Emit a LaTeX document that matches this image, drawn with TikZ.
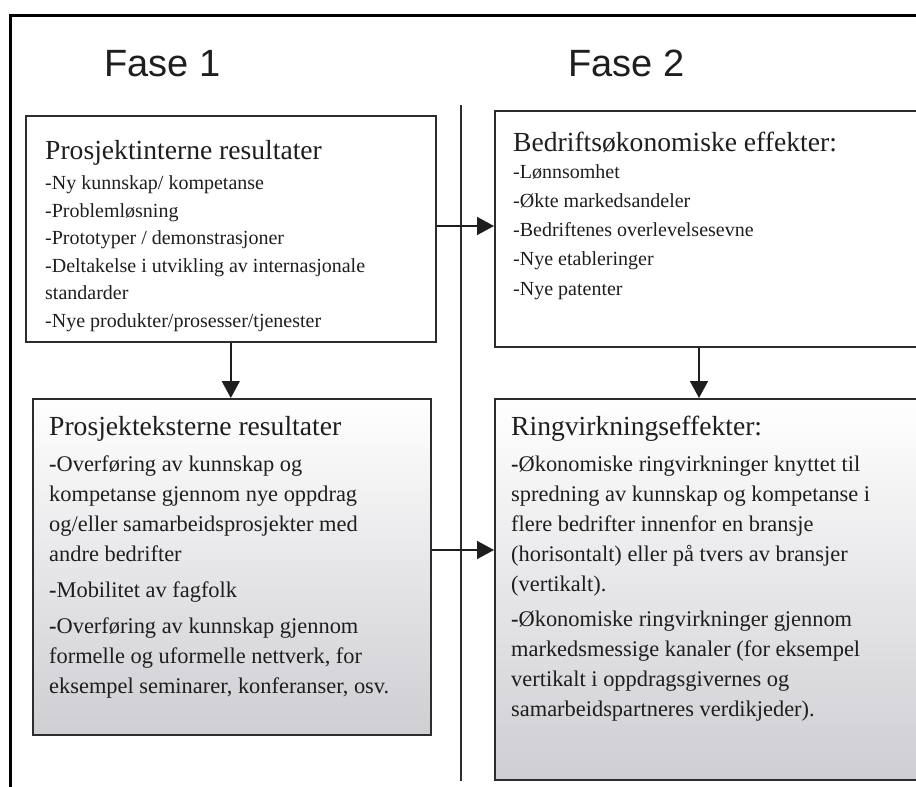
\documentclass[tikz,border=0pt]{standalone}
\usepackage{fontspec}
\setmainfont{Liberation Serif}
\setsansfont{Liberation Sans}
\usetikzlibrary{arrows.meta}

\definecolor{edge}{RGB}{45,45,45}
\definecolor{ink}{RGB}{30,30,30}
\definecolor{shadebottom}{RGB}{206,206,211}

\tikzset{
  fase/.style={font=\sffamily\fontsize{38}{40}\selectfont, text=ink, anchor=base west, inner sep=0pt},
  head/.style={font=\fontsize{27.6}{30}\selectfont, text=ink, anchor=base west, inner sep=0pt},
  itemsmall/.style={font=\fontsize{20}{24}\selectfont, text=ink, anchor=base west, inner sep=0pt},
  itemlarge/.style={font=\fontsize{22.4}{26}\selectfont, text=ink, anchor=base west, inner sep=0pt},
  plainbox/.style={draw=edge, line width=1.6pt, anchor=north west, inner sep=0pt},
  shadedbox/.style={plainbox, shading=axis, top color=white, bottom color=shadebottom},
  arr/.style={draw=ink, line width=1.6pt, -{Triangle[length=17pt,width=18pt]}},
}
\newcommand{\bdash}{{\bfseries -}}

\begin{document}
\begin{tikzpicture}[x=1pt, y=-1pt]
  \useasboundingbox (0,0) rectangle (916,787);

  % outer frame (top and left sides)
  \coordinate (frameR) at (930,15);
  \coordinate (frameC) at (10.5,15);
  \coordinate (frameB) at (10.5,800);
  \draw[draw=black, line width=3pt] (frameR) -- (frameC) -- (frameB);

  % phase headings
  \node[fase] (fase1) at (104,76) {Fase 1};
  \node[fase] (fase2) at (568,76) {Fase 2};

  % phase divider
  \coordinate (divtop) at (461,105);
  \coordinate (divbot) at (461,781);
  \draw[draw=edge, line width=1.6pt] (divtop) -- (divbot);

  % boxes
  \node[plainbox, minimum width=410pt, minimum height=226pt] (b1) at (25,115) {};
  \node[plainbox, minimum width=440pt, minimum height=236pt] (b2) at (494,110) {};
  \node[shadedbox, minimum width=398pt, minimum height=336pt] (b3) at (32,398) {};
  \node[shadedbox, minimum width=440pt, minimum height=381pt] (b4) at (494,398) {};

  % box 1 text
  \node[head] (h1) at (45,159) {Prosjektinterne resultater};
  \node[itemsmall] (a1) at (45,189.5) {-Ny kunnskap/ kompetanse};
  \node[itemsmall] (a2) at (45,217.1) {-Problemløsning};
  \node[itemsmall] (a3) at (45,244.7) {-Prototyper / demonstrasjoner};
  \node[itemsmall] (a4) at (45,272.3) {-Deltakelse i utvikling av internasjonale};
  \node[itemsmall] (a5) at (45,299.9) {standarder};
  \node[itemsmall] (a6) at (45,327.5) {-Nye produkter/prosesser/tjenester};

  % box 2 text
  \node[head] (h2) at (513,151) {Bedriftsøkonomiske effekter:};
  \node[itemsmall] (c1) at (513,178) {-Lønnsomhet};
  \node[itemsmall] (c2) at (513,207.3) {-Økte markedsandeler};
  \node[itemsmall] (c3) at (513,236.6) {-Bedriftenes overlevelsesevne};
  \node[itemsmall] (c4) at (513,265.9) {-Nye etableringer};
  \node[itemsmall] (c5) at (513,295.2) {-Nye patenter};

  % box 3 text
  \node[head] (h3) at (49,435) {Prosjekteksterne resultater};
  \node[itemlarge] (d1) at (49,471) {\bdash Overføring av kunnskap og};
  \node[itemlarge] (d2) at (49,501) {kompetanse gjennom nye oppdrag};
  \node[itemlarge] (d3) at (49,531) {og/eller samarbeidsprosjekter med};
  \node[itemlarge] (d4) at (49,561) {andre bedrifter};
  \node[itemlarge] (d5) at (49,597) {\bdash Mobilitet av fagfolk};
  \node[itemlarge] (d6) at (49,633) {\bdash Overføring av kunnskap gjennom};
  \node[itemlarge] (d7) at (49,663) {formelle og uformelle nettverk, for};
  \node[itemlarge] (d8) at (49,693) {eksempel seminarer, konferanser, osv.};

  % box 4 text
  \node[head] (h4) at (511,435) {Ringvirkningseffekter:};
  \node[itemlarge] (e1) at (511,471) {\bdash Økonomiske ringvirkninger knyttet til};
  \node[itemlarge] (e2) at (511,501) {spredning av kunnskap og kompetanse i};
  \node[itemlarge] (e3) at (511,531) {flere bedrifter innenfor en bransje};
  \node[itemlarge] (e4) at (511,561) {(horisontalt) eller på tvers av bransjer};
  \node[itemlarge] (e5) at (511,591) {(vertikalt).};
  \node[itemlarge] (e6) at (511,626) {\bdash Økonomiske ringvirkninger gjennom};
  \node[itemlarge] (e7) at (511,656) {markedsmessige kanaler (for eksempel};
  \node[itemlarge] (e8) at (511,686) {vertikalt i oppdragsgivernes og};
  \node[itemlarge] (e9) at (511,716) {samarbeidspartneres verdikjeder).};

  % connectors
  \coordinate (row1) at (0,226);
  \coordinate (row2) at (0,550);
  \coordinate (col2) at (699,0);
  \draw[arr] (b1.east |- row1) -- (b2.west |- row1);
  \draw[arr] (b3.east |- row2) -- (b4.west |- row2);
  \draw[arr] (b1.south) -- (b3.north -| b1.south);
  \draw[arr] (b2.south -| col2) -- (b4.north -| col2);
\end{tikzpicture}
\end{document}
